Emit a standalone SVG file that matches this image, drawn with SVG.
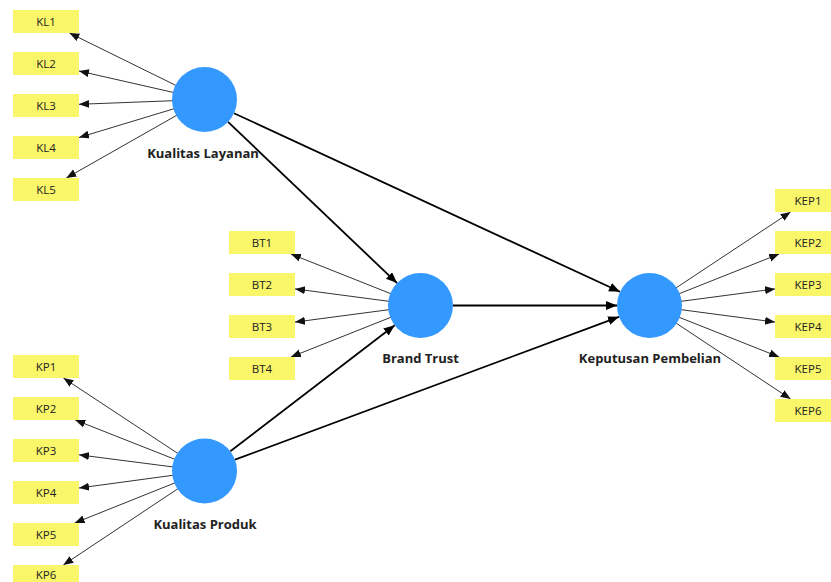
<svg xmlns="http://www.w3.org/2000/svg" width="831" height="582" viewBox="0 0 831 582">
<defs>
<marker id="ah" markerUnits="userSpaceOnUse" markerWidth="11" markerHeight="9" refX="10" refY="4" orient="auto"><path d="M0,0 L10,4 L0,8 z" fill="#111"/></marker>
<marker id="ahb" markerUnits="userSpaceOnUse" markerWidth="12" markerHeight="10" refX="11" refY="4.5" orient="auto"><path d="M0,0 L11,4.5 L0,9 z" fill="#000"/></marker>
<style>
.ind rect{fill:#FAF66A}
.ind text{font-family:"Open Sans","Noto Sans",sans-serif;font-size:11.5px;fill:#222;text-anchor:middle}
.lv circle{fill:#3399FF}
.lv text{font-family:"Open Sans","Noto Sans",sans-serif;font-size:13px;font-weight:bold;fill:#222;text-anchor:middle}
.m{stroke:#333;stroke-width:1;fill:none;marker-end:url(#ah)}
.s{stroke:#000;stroke-width:1.8;fill:none;marker-end:url(#ahb)}
</style>
</defs>
<rect width="831" height="582" fill="#fff"/>
<g id="connectors">
<line class="m" x1="204.5" y1="99.5" x2="69.4" y2="33"/>
<line class="m" x1="204.5" y1="99.5" x2="79" y2="71"/>
<line class="m" x1="204.5" y1="99.5" x2="79" y2="104.3"/>
<line class="m" x1="204.5" y1="99.5" x2="79" y2="137.5"/>
<line class="m" x1="204.5" y1="99.5" x2="66.3" y2="178"/>
<line class="m" x1="204.5" y1="471" x2="63.4" y2="378"/>
<line class="m" x1="204.5" y1="471" x2="75.2" y2="420"/>
<line class="m" x1="204.5" y1="471" x2="79" y2="454.8"/>
<line class="m" x1="204.5" y1="471" x2="79" y2="488"/>
<line class="m" x1="204.5" y1="471" x2="74.7" y2="523"/>
<line class="m" x1="204.5" y1="471" x2="63.3" y2="565"/>
<line class="m" x1="420.5" y1="305.5" x2="290.9" y2="254"/>
<line class="m" x1="420.5" y1="305.5" x2="295" y2="288.9"/>
<line class="m" x1="420.5" y1="305.5" x2="295" y2="322.1"/>
<line class="m" x1="420.5" y1="305.5" x2="290.9" y2="357"/>
<line class="m" x1="649.5" y1="305.5" x2="790.6" y2="212"/>
<line class="m" x1="649.5" y1="305.5" x2="779.1" y2="254"/>
<line class="m" x1="649.5" y1="305.5" x2="775" y2="288.9"/>
<line class="m" x1="649.5" y1="305.5" x2="775" y2="322.1"/>
<line class="m" x1="649.5" y1="305.5" x2="779.1" y2="357"/>
<line class="m" x1="649.5" y1="305.5" x2="790.6" y2="399"/>
<line class="s" x1="228" y1="121.9" x2="397" y2="283.1"/>
<line class="s" x1="234" y1="113.2" x2="620" y2="291.8"/>
<line class="s" x1="453" y1="305.5" x2="617" y2="305.5"/>
<line class="s" x1="230.3" y1="451.2" x2="394.7" y2="325.3"/>
<line class="s" x1="235" y1="459.7" x2="619" y2="316.8"/>
</g>
<g id="KL1" class="ind"><rect x="13" y="10" width="66" height="23"/><text x="46" y="25.5">KL1</text></g>
<g id="KL2" class="ind"><rect x="13" y="52" width="66" height="23"/><text x="46" y="67.5">KL2</text></g>
<g id="KL3" class="ind"><rect x="13" y="94" width="66" height="23"/><text x="46" y="109.5">KL3</text></g>
<g id="KL4" class="ind"><rect x="13" y="136" width="66" height="23"/><text x="46" y="151.5">KL4</text></g>
<g id="KL5" class="ind"><rect x="13" y="178" width="66" height="23"/><text x="46" y="193.5">KL5</text></g>
<g id="KP1" class="ind"><rect x="13" y="355" width="66" height="23"/><text x="46" y="370.5">KP1</text></g>
<g id="KP2" class="ind"><rect x="13" y="397" width="66" height="23"/><text x="46" y="412.5">KP2</text></g>
<g id="KP3" class="ind"><rect x="13" y="439" width="66" height="23"/><text x="46" y="454.5">KP3</text></g>
<g id="KP4" class="ind"><rect x="13" y="481" width="66" height="23"/><text x="46" y="496.5">KP4</text></g>
<g id="KP5" class="ind"><rect x="13" y="523" width="66" height="23"/><text x="46" y="538.5">KP5</text></g>
<g id="KP6" class="ind"><rect x="13" y="565" width="66" height="23"/><text x="46" y="579">KP6</text></g>
<g id="BT1" class="ind"><rect x="229" y="231" width="66" height="23"/><text x="262" y="246.5">BT1</text></g>
<g id="BT2" class="ind"><rect x="229" y="273" width="66" height="23"/><text x="262" y="288.5">BT2</text></g>
<g id="BT3" class="ind"><rect x="229" y="315" width="66" height="23"/><text x="262" y="330.5">BT3</text></g>
<g id="BT4" class="ind"><rect x="229" y="357" width="66" height="23"/><text x="262" y="372.5">BT4</text></g>
<g id="KEP1" class="ind"><rect x="775" y="189" width="66" height="23"/><text x="808" y="204.5">KEP1</text></g>
<g id="KEP2" class="ind"><rect x="775" y="231" width="66" height="23"/><text x="808" y="246.5">KEP2</text></g>
<g id="KEP3" class="ind"><rect x="775" y="273" width="66" height="23"/><text x="808" y="288.5">KEP3</text></g>
<g id="KEP4" class="ind"><rect x="775" y="315" width="66" height="23"/><text x="808" y="330.5">KEP4</text></g>
<g id="KEP5" class="ind"><rect x="775" y="357" width="66" height="23"/><text x="808" y="372.5">KEP5</text></g>
<g id="KEP6" class="ind"><rect x="775" y="399" width="66" height="23"/><text x="808" y="414.5">KEP6</text></g>
<g id="KualitasLayanan" class="lv"><circle cx="204.5" cy="99.5" r="32.5"/><text x="203" y="158">Kualitas Layanan</text></g>
<g id="KualitasProduk" class="lv"><circle cx="204.5" cy="471" r="32.5"/><text x="205" y="529">Kualitas Produk</text></g>
<g id="BrandTrust" class="lv"><circle cx="420.5" cy="305.5" r="32.5"/><text x="420.5" y="363">Brand Trust</text></g>
<g id="KeputusanPembelian" class="lv"><circle cx="649.5" cy="305.5" r="32.5"/><text x="650" y="363">Keputusan Pembelian</text></g>
</svg>
